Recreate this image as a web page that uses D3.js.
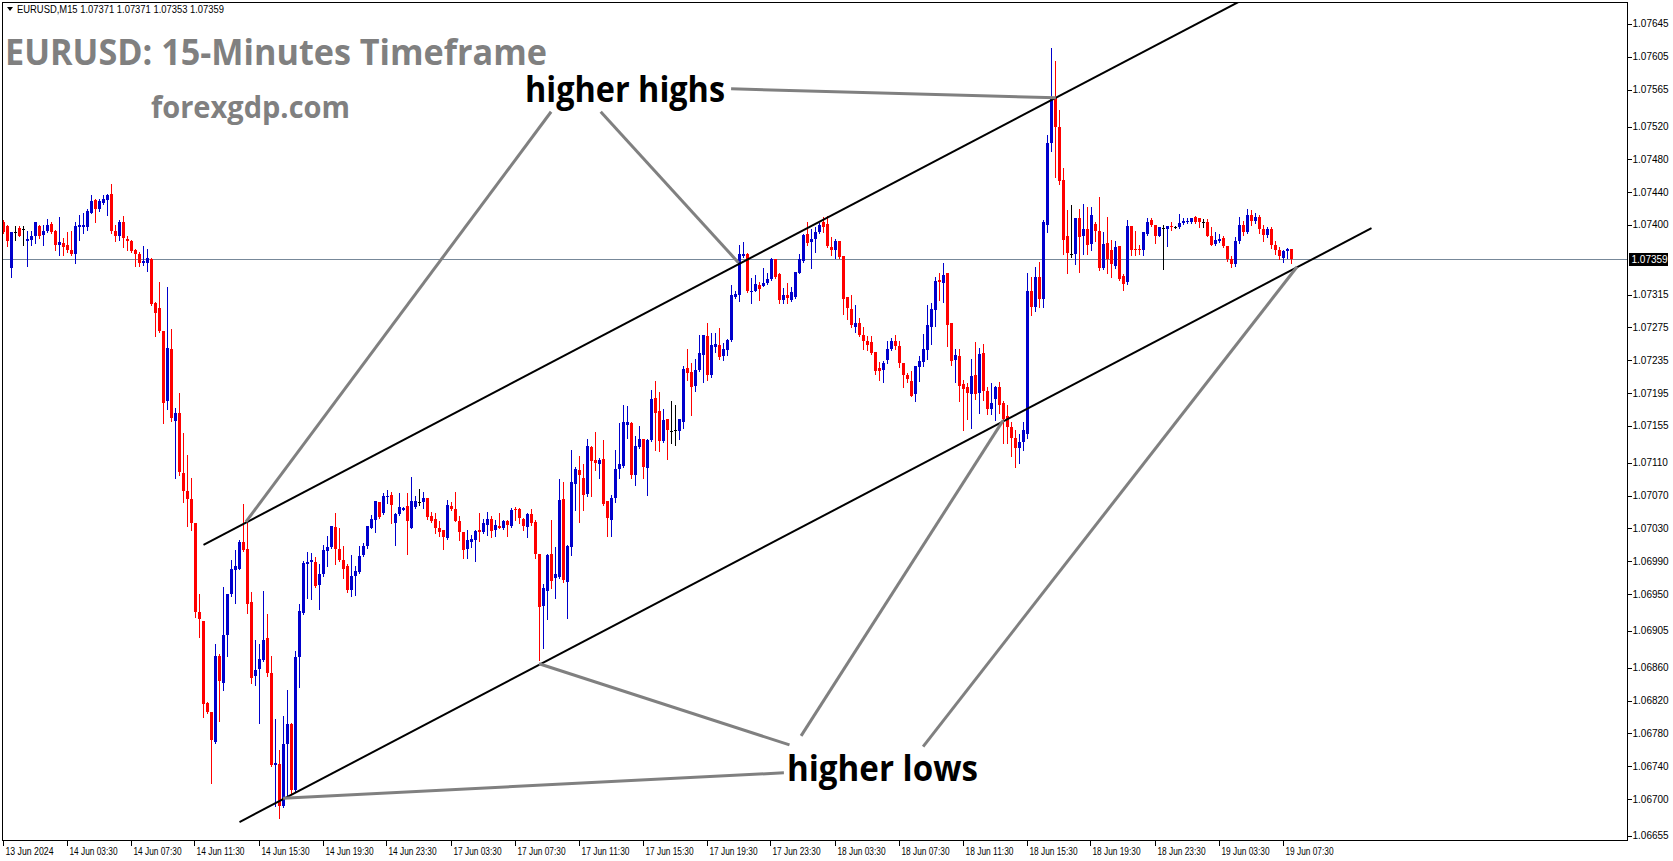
<!DOCTYPE html>
<html><head><meta charset="utf-8">
<script src="https://cdn.jsdelivr.net/npm/d3@7"></script>
<style>html,body{margin:0;padding:0;background:#fff;overflow:hidden}</style>
</head><body>
<svg id="chart" width="1673" height="861"></svg>
<script>
// [open, high, low, close] per 15-minute bar, starting 13 Jun 23:30
const bars = [
[1.07403,1.07406,1.07390,1.07392],[1.07399,1.07400,1.07374,1.07381],[1.07348,1.07392,1.07336,1.07391],[1.07391,1.07399,1.07382,1.07391],
[1.07396,1.07399,1.07386,1.07387],[1.07395,1.07399,1.07376,1.07395],[1.07381,1.07393,1.07350,1.07383],[1.07382,1.07393,1.07375,1.07387],
[1.07386,1.07404,1.07378,1.07403],[1.07399,1.07400,1.07384,1.07387],[1.07388,1.07400,1.07376,1.07393],[1.07393,1.07407,1.07392,1.07400],
[1.07401,1.07404,1.07390,1.07391],[1.07393,1.07394,1.07369,1.07376],[1.07375,1.07410,1.07363,1.07379],[1.07378,1.07384,1.07363,1.07373],
[1.07376,1.07392,1.07367,1.07369],[1.07369,1.07393,1.07363,1.07364],[1.07365,1.07404,1.07354,1.07399],[1.07398,1.07412,1.07382,1.07400],
[1.07398,1.07414,1.07390,1.07400],[1.07398,1.07419,1.07394,1.07417],[1.07415,1.07437,1.07414,1.07429],[1.07430,1.07432,1.07403,1.07419],
[1.07419,1.07432,1.07417,1.07429],[1.07427,1.07437,1.07426,1.07432],[1.07430,1.07438,1.07412,1.07436],[1.07438,1.07450,1.07390,1.07393],
[1.07393,1.07400,1.07381,1.07386],[1.07386,1.07406,1.07382,1.07404],[1.07404,1.07411,1.07373,1.07384],[1.07383,1.07386,1.07370,1.07381],
[1.07381,1.07382,1.07367,1.07368],[1.07369,1.07371,1.07350,1.07365],[1.07365,1.07367,1.07350,1.07354],[1.07354,1.07374,1.07351,1.07356],
[1.07354,1.07371,1.07344,1.07360],[1.07359,1.07360,1.07302,1.07304],[1.07305,1.07306,1.07265,1.07293],[1.07299,1.07330,1.07269,1.07271],
[1.07271,1.07271,1.07159,1.07183],[1.07185,1.07324,1.07176,1.07250],[1.07249,1.07273,1.07161,1.07165],[1.07161,1.07177,1.07092,1.07171],
[1.07171,1.07195,1.07095,1.07099],[1.07098,1.07146,1.07062,1.07076],[1.07076,1.07120,1.07033,1.07066],[1.07066,1.07091,1.07028,1.07036],
[1.07036,1.07036,1.06922,1.06928],[1.06928,1.06950,1.06898,1.06919],[1.06917,1.06917,1.06800,1.06816],[1.06817,1.06818,1.06805,1.06806],
[1.06806,1.06806,1.06720,1.06772],[1.06770,1.06889,1.06768,1.06875],[1.06874,1.06877,1.06795,1.06844],[1.06842,1.06959,1.06833,1.06900],
[1.06900,1.06950,1.06875,1.06950],[1.06950,1.06992,1.06947,1.06981],[1.06979,1.07004,1.06939,1.06984],[1.06981,1.07016,1.06980,1.07014],
[1.07013,1.07060,1.07003,1.07004],[1.07005,1.07041,1.06927,1.06938],[1.06940,1.06952,1.06841,1.06848],[1.06850,1.06894,1.06839,1.06857],
[1.06858,1.06889,1.06793,1.06871],[1.06870,1.06954,1.06868,1.06894],[1.06896,1.06926,1.06850,1.06854],[1.06854,1.06875,1.06740,1.06742],
[1.06741,1.06798,1.06691,1.06744],[1.06743,1.06760,1.06677,1.06691],[1.06691,1.06801,1.06690,1.06767],[1.06767,1.06833,1.06703,1.06791],
[1.06792,1.06793,1.06707,1.06711],[1.06711,1.06880,1.06709,1.06873],[1.06873,1.06938,1.06837,1.06929],[1.06927,1.06990,1.06926,1.06988],
[1.06987,1.07001,1.06945,1.06989],[1.06989,1.07000,1.06944,1.06991],[1.06989,1.06995,1.06959,1.06960],[1.06961,1.06986,1.06932,1.06974],
[1.06974,1.07010,1.06972,1.07004],[1.07002,1.07021,1.06984,1.07007],[1.07007,1.07033,1.07006,1.07033],[1.07032,1.07049,1.06986,1.07005],
[1.07005,1.07030,1.06990,1.06991],[1.06991,1.07008,1.06970,1.06981],[1.06984,1.06986,1.06953,1.06955],[1.06955,1.06997,1.06948,1.06972],
[1.06972,1.06984,1.06949,1.06978],[1.06977,1.07008,1.06976,1.06996],[1.06998,1.07012,1.06996,1.07008],[1.07008,1.07033,1.07006,1.07033],
[1.07031,1.07046,1.07030,1.07042],[1.07040,1.07063,1.07026,1.07063],[1.07062,1.07062,1.07043,1.07044],[1.07049,1.07073,1.07047,1.07070],
[1.07068,1.07077,1.07061,1.07070],[1.07071,1.07074,1.07037,1.07058],[1.07036,1.07049,1.07010,1.07048],[1.07047,1.07073,1.07046,1.07056],
[1.07053,1.07056,1.07052,1.07055],[1.07057,1.07073,1.06999,1.07039],[1.07031,1.07093,1.07030,1.07063],[1.07056,1.07069,1.07055,1.07063],
[1.07062,1.07078,1.07058,1.07062],[1.07062,1.07074,1.07055,1.07067],[1.07067,1.07067,1.07041,1.07044],[1.07045,1.07050,1.07038,1.07039],
[1.07041,1.07049,1.07024,1.07030],[1.07030,1.07039,1.07021,1.07026],[1.07028,1.07028,1.07005,1.07019],[1.07018,1.07065,1.07017,1.07058],
[1.07057,1.07062,1.07053,1.07054],[1.07054,1.07074,1.07039,1.07039],[1.07039,1.07045,1.07016,1.07026],[1.07026,1.07026,1.06994,1.07004],
[1.07005,1.07028,1.06994,1.07016],[1.07014,1.07022,1.07007,1.07017],[1.07016,1.07028,1.06990,1.07027],[1.07028,1.07049,1.07015,1.07026],
[1.07026,1.07042,1.07025,1.07037],[1.07034,1.07050,1.07022,1.07042],[1.07042,1.07045,1.07019,1.07027],[1.07028,1.07040,1.07021,1.07034],
[1.07033,1.07049,1.07030,1.07031],[1.07030,1.07040,1.07029,1.07039],[1.07039,1.07040,1.07021,1.07034],[1.07033,1.07055,1.07032,1.07053],
[1.07054,1.07056,1.07040,1.07052],[1.07054,1.07055,1.07036,1.07043],[1.07042,1.07043,1.07028,1.07033],[1.07032,1.07049,1.07020,1.07048],
[1.07047,1.07054,1.07034,1.07036],[1.07038,1.07040,1.06994,1.06999],[1.06999,1.06999,1.06870,1.06934],[1.06935,1.06962,1.06884,1.06957],
[1.06954,1.06999,1.06919,1.06998],[1.06999,1.07040,1.06957,1.06966],[1.06969,1.07007,1.06945,1.06975],[1.06971,1.07090,1.06969,1.07065],
[1.07066,1.07086,1.06965,1.06967],[1.06965,1.07010,1.06921,1.07009],[1.07007,1.07125,1.06997,1.07086],[1.07084,1.07105,1.07053,1.07103],
[1.07101,1.07118,1.07038,1.07095],[1.07092,1.07109,1.07053,1.07071],[1.07072,1.07139,1.07070,1.07131],[1.07129,1.07130,1.07070,1.07112],
[1.07114,1.07147,1.07101,1.07110],[1.07109,1.07116,1.07091,1.07114],[1.07115,1.07138,1.07059,1.07060],[1.07063,1.07064,1.07021,1.07043],
[1.07040,1.07071,1.07021,1.07067],[1.07067,1.07125,1.07062,1.07103],[1.07103,1.07158,1.07091,1.07109],[1.07106,1.07180,1.07105,1.07160],
[1.07156,1.07179,1.07140,1.07160],[1.07159,1.07160,1.07091,1.07095],[1.07095,1.07143,1.07083,1.07131],[1.07129,1.07155,1.07128,1.07139],
[1.07139,1.07139,1.07092,1.07105],[1.07104,1.07139,1.07071,1.07138],[1.07138,1.07199,1.07137,1.07188],[1.07189,1.07210,1.07126,1.07171],
[1.07173,1.07196,1.07124,1.07136],[1.07137,1.07175,1.07135,1.07162],[1.07164,1.07164,1.07115,1.07150],[1.07149,1.07185,1.07134,1.07149],
[1.07150,1.07181,1.07132,1.07150],[1.07149,1.07164,1.07139,1.07163],[1.07160,1.07228,1.07152,1.07224],[1.07225,1.07249,1.07211,1.07220],
[1.07221,1.07232,1.07168,1.07202],[1.07204,1.07236,1.07198,1.07223],[1.07223,1.07266,1.07222,1.07244],[1.07241,1.07266,1.07208,1.07266],
[1.07264,1.07280,1.07211,1.07217],[1.07217,1.07268,1.07215,1.07254],[1.07251,1.07268,1.07245,1.07255],[1.07254,1.07274,1.07237,1.07239],
[1.07240,1.07256,1.07235,1.07249],[1.07248,1.07261,1.07241,1.07260],[1.07260,1.07327,1.07259,1.07314],[1.07312,1.07320,1.07311,1.07316],
[1.07315,1.07375,1.07307,1.07364],[1.07362,1.07379,1.07361,1.07365],[1.07364,1.07366,1.07318,1.07319],[1.07318,1.07335,1.07305,1.07320],
[1.07320,1.07339,1.07319,1.07328],[1.07327,1.07330,1.07309,1.07322],[1.07326,1.07347,1.07325,1.07329],[1.07329,1.07341,1.07328,1.07334],
[1.07334,1.07360,1.07333,1.07358],[1.07359,1.07359,1.07335,1.07337],[1.07340,1.07341,1.07305,1.07308],[1.07308,1.07323,1.07305,1.07315],
[1.07315,1.07329,1.07305,1.07311],[1.07308,1.07324,1.07307,1.07318],[1.07312,1.07343,1.07311,1.07343],[1.07342,1.07364,1.07341,1.07358],
[1.07356,1.07389,1.07355,1.07388],[1.07389,1.07403,1.07376,1.07378],[1.07379,1.07395,1.07348,1.07383],[1.07383,1.07398,1.07367,1.07391],
[1.07391,1.07402,1.07390,1.07400],[1.07403,1.07410,1.07392,1.07398],[1.07401,1.07411,1.07373,1.07374],[1.07373,1.07385,1.07363,1.07369],
[1.07370,1.07383,1.07360,1.07381],[1.07380,1.07380,1.07360,1.07361],[1.07362,1.07362,1.07291,1.07310],[1.07312,1.07312,1.07285,1.07299],
[1.07298,1.07315,1.07276,1.07278],[1.07276,1.07303,1.07270,1.07281],[1.07280,1.07287,1.07264,1.07266],[1.07266,1.07276,1.07249,1.07259],
[1.07259,1.07264,1.07248,1.07254],[1.07257,1.07264,1.07243,1.07244],[1.07245,1.07245,1.07218,1.07222],[1.07225,1.07233,1.07211,1.07222],
[1.07223,1.07234,1.07209,1.07232],[1.07235,1.07258,1.07232,1.07249],[1.07249,1.07262,1.07248,1.07259],[1.07258,1.07266,1.07249,1.07253],
[1.07253,1.07258,1.07227,1.07232],[1.07232,1.07232,1.07203,1.07217],[1.07217,1.07220,1.07208,1.07212],[1.07210,1.07222,1.07191,1.07192],
[1.07194,1.07228,1.07185,1.07228],[1.07227,1.07240,1.07210,1.07234],[1.07233,1.07267,1.07228,1.07249],[1.07247,1.07303,1.07236,1.07278],
[1.07276,1.07305,1.07255,1.07298],[1.07296,1.07337,1.07277,1.07332],[1.07333,1.07342,1.07308,1.07330],[1.07329,1.07354,1.07306,1.07339],
[1.07341,1.07342,1.07252,1.07278],[1.07280,1.07280,1.07229,1.07234],[1.07235,1.07249,1.07208,1.07241],[1.07240,1.07249,1.07185,1.07204],
[1.07206,1.07211,1.07150,1.07200],[1.07202,1.07207,1.07163,1.07195],[1.07194,1.07236,1.07153,1.07216],[1.07217,1.07257,1.07188,1.07194],
[1.07195,1.07250,1.07171,1.07243],[1.07244,1.07255,1.07187,1.07198],[1.07197,1.07203,1.07169,1.07176],[1.07176,1.07207,1.07170,1.07183],
[1.07188,1.07204,1.07162,1.07202],[1.07203,1.07209,1.07171,1.07180],[1.07183,1.07185,1.07134,1.07163],[1.07167,1.07180,1.07134,1.07154],
[1.07154,1.07160,1.07118,1.07140],[1.07140,1.07150,1.07105,1.07128],[1.07128,1.07145,1.07110,1.07135],[1.07135,1.07160,1.07125,1.07150],
[1.07145,1.07342,1.07140,1.07320],[1.07320,1.07336,1.07290,1.07300],[1.07300,1.07349,1.07295,1.07336],[1.07336,1.07355,1.07300,1.07310],
[1.07310,1.07406,1.07300,1.07403],[1.07400,1.07510,1.07392,1.07500],[1.07500,1.07616,1.07490,1.07555],[1.07555,1.07600,1.07458,1.07520],
[1.07520,1.07540,1.07450,1.07453],[1.07455,1.07470,1.07365,1.07382],[1.07387,1.07418,1.07342,1.07366],[1.07365,1.07424,1.07361,1.07365],
[1.07365,1.07409,1.07352,1.07409],[1.07408,1.07420,1.07343,1.07385],[1.07387,1.07426,1.07365,1.07395],[1.07395,1.07422,1.07365,1.07376],
[1.07377,1.07422,1.07369,1.07412],[1.07401,1.07404,1.07380,1.07393],[1.07393,1.07434,1.07345,1.07347],[1.07348,1.07392,1.07346,1.07377],
[1.07378,1.07410,1.07341,1.07358],[1.07370,1.07382,1.07337,1.07352],[1.07350,1.07380,1.07347,1.07373],[1.07374,1.07374,1.07333,1.07334],
[1.07338,1.07340,1.07321,1.07328],[1.07330,1.07406,1.07328,1.07399],[1.07399,1.07399,1.07363,1.07370],[1.07371,1.07393,1.07363,1.07369],
[1.07371,1.07376,1.07365,1.07369],[1.07369,1.07392,1.07363,1.07392],[1.07389,1.07409,1.07388,1.07404],[1.07406,1.07408,1.07399,1.07400],
[1.07400,1.07400,1.07378,1.07387],[1.07387,1.07398,1.07386,1.07397],[1.07396,1.07400,1.07346,1.07396],[1.07395,1.07399,1.07374,1.07399],
[1.07399,1.07403,1.07394,1.07397],[1.07397,1.07399,1.07396,1.07397],[1.07397,1.07413,1.07396,1.07402],[1.07402,1.07409,1.07401,1.07405],
[1.07403,1.07408,1.07402,1.07405],[1.07403,1.07409,1.07402,1.07409],[1.07410,1.07411,1.07402,1.07403],[1.07408,1.07409,1.07397,1.07403],
[1.07404,1.07407,1.07397,1.07404],[1.07404,1.07407,1.07387,1.07387],[1.07387,1.07398,1.07375,1.07376],[1.07377,1.07391,1.07376,1.07382],
[1.07380,1.07389,1.07379,1.07383],[1.07384,1.07386,1.07373,1.07374],[1.07374,1.07374,1.07356,1.07358],[1.07358,1.07362,1.07349,1.07352],
[1.07352,1.07385,1.07350,1.07380],[1.07380,1.07410,1.07378,1.07400],[1.07400,1.07405,1.07388,1.07392],[1.07392,1.07420,1.07390,1.07412],
[1.07412,1.07418,1.07400,1.07405],[1.07405,1.07415,1.07402,1.07410],[1.07410,1.07412,1.07390,1.07395],[1.07395,1.07400,1.07380,1.07388],
[1.07388,1.07398,1.07385,1.07395],[1.07395,1.07397,1.07372,1.07375],[1.07375,1.07380,1.07365,1.07370],[1.07370,1.07373,1.07358,1.07362],
[1.07360,1.07370,1.07355,1.07368],[1.07368,1.07372,1.07360,1.07371],[1.07371,1.07371,1.07353,1.07359]
];
const timeLabels = ["13 Jun 2024","14 Jun 03:30","14 Jun 07:30","14 Jun 11:30","14 Jun 15:30","14 Jun 19:30","14 Jun 23:30",
  "17 Jun 03:30","17 Jun 07:30","17 Jun 11:30","17 Jun 15:30","17 Jun 19:30","17 Jun 23:30",
  "18 Jun 03:30","18 Jun 07:30","18 Jun 11:30","18 Jun 15:30","18 Jun 19:30","18 Jun 23:30","19 Jun 03:30","19 Jun 07:30"];
const timeLabelBars = [0,16,32,48,64,80,96,112,128,144,160,176,192,208,224,240,256,272,288,304,320];
const priceTicks = [1.07645,1.07605,1.07565,1.07520,1.07480,1.07440,1.07400,1.07315,1.07275,1.07235,1.07195,1.07155,
  1.07110,1.07070,1.07030,1.06990,1.06950,1.06905,1.06860,1.06820,1.06780,1.06740,1.06700,1.06655];
const lastPrice = 1.07359;
const headerText = "EURUSD,M15  1.07371 1.07371 1.07353 1.07359";
const channelUpper = [[50,1.07010],[310,1.07675]];
const channelLower = [[59,1.06672],[342,1.07396]];
const highPointers = [[[60.6,1.07038],[136.9,1.07538]],[[149.3,1.07538],[183.75,1.07354]],[[181.9,1.07566],[263.1,1.07555]]];
const lowPointers = [[[196.5,1.06766],[133.9,1.06865]],[[195.1,1.06732],[69.9,1.06701]],[[199.4,1.06777],[249.95,1.07162]],[[229.9,1.06764],[323.4,1.07349]]];

const svg = d3.select("#chart");
const L = 2.5, T = 2.5, R = 1627.5, B = 840.5;
const x = d3.scaleLinear().domain([0, 406]).range([3.5, 3.5 + 4 * 406]);
const y = d3.scaleLinear().domain([1.066501, 1.076706]).range([840, 3]);

svg.append("rect").attr("width",1673).attr("height",861).attr("fill","#fff");
svg.append("defs").append("clipPath").attr("id","plot").append("rect")
  .attr("x",L).attr("y",T).attr("width",R-L).attr("height",B-T);
const plot = svg.append("g").attr("clip-path","url(#plot)");

// current price line
plot.append("line").attr("x1",L).attr("x2",R).attr("y1",Math.round(y(lastPrice))+0.5).attr("y2",Math.round(y(lastPrice))+0.5)
  .attr("stroke","#778899").attr("stroke-width",1);

// candles
const col = d => d[3] > d[0] ? "#0000cc" : (d[3] < d[0] ? "#ff0000" : "#000000");
const cg = plot.append("g").attr("shape-rendering","crispEdges");
cg.selectAll("line.w").data(bars).join("line").attr("class","w")
  .attr("x1",(d,i)=>x(i)).attr("x2",(d,i)=>x(i))
  .attr("y1",d=>Math.round(y(d[1]))).attr("y2",d=>Math.round(y(d[2]))+1)
  .attr("stroke",col).attr("stroke-width",1);
cg.selectAll("rect.b").data(bars).join("rect").attr("class","b")
  .attr("x",(d,i)=>x(i)-1.5).attr("width",3)
  .attr("y",d=>Math.round(y(Math.max(d[0],d[3]))))
  .attr("height",d=>Math.max(1,Math.round(y(Math.min(d[0],d[3])))-Math.round(y(Math.max(d[0],d[3])))))
  .attr("fill",col);

// channel lines
const ln = d3.line().x(p=>x(p[0])).y(p=>y(p[1]));
[channelUpper, channelLower].forEach(c => plot.append("path").attr("d",ln(c)).attr("fill","none")
  .attr("stroke","#000").attr("stroke-width",2));
// pointer lines
highPointers.concat(lowPointers).forEach(c => plot.append("path").attr("d",ln(c)).attr("fill","none")
  .attr("stroke","#808080").attr("stroke-width",3));

// frame
svg.append("rect").attr("x",L).attr("y",T).attr("width",R-L).attr("height",B-T)
  .attr("fill","none").attr("stroke","#000").attr("stroke-width",1).attr("shape-rendering","crispEdges");

// price axis
const pa = svg.append("g");
priceTicks.forEach(p => {
  const yy = y(p);
  pa.append("line").attr("x1",R).attr("x2",R+4).attr("y1",Math.round(yy)+0.5).attr("y2",Math.round(yy)+0.5)
    .attr("stroke","#000").attr("shape-rendering","crispEdges");
  pa.append("text").attr("x",R+5).attr("y",yy+3.5).text(p.toFixed(5))
    .attr("font-family","Liberation Sans, Arial, sans-serif").attr("font-size",10).attr("fill","#000");
});
const ly = y(lastPrice);
pa.append("rect").attr("x",R+1.5).attr("y",Math.round(ly)-6).attr("width",39).attr("height",13).attr("fill","#000");
pa.append("text").attr("x",R+4).attr("y",ly+4).text(lastPrice.toFixed(5))
  .attr("font-family","Liberation Sans, Arial, sans-serif").attr("font-size",10).attr("fill","#fff");

// time axis
const ta = svg.append("g");
timeLabelBars.forEach((b,k) => {
  const xx = Math.round(x(b)) - 0.5;
  ta.append("line").attr("x1",xx).attr("x2",xx).attr("y1",B).attr("y2",B+5)
    .attr("stroke","#000").attr("shape-rendering","crispEdges");
  ta.append("text").attr("x",xx+2).attr("y",854.5).text(timeLabels[k])
    .attr("font-family","Liberation Sans, Arial, sans-serif").attr("font-size",10).attr("fill","#000")
    .attr("textLength",48).attr("lengthAdjust","spacingAndGlyphs");
});

// header
svg.append("path").attr("d","M7,7 L13,7 L10,11 Z").attr("fill","#000");
svg.append("text").attr("x",17).attr("y",13).text(headerText)
  .attr("font-family","Liberation Sans, Arial, sans-serif").attr("font-size",10).attr("fill","#000")
  .attr("textLength",207).attr("lengthAdjust","spacingAndGlyphs");

// titles
svg.append("text").attr("x",5).attr("y",65).text("EURUSD: 15-Minutes Timeframe")
  .attr("font-family","Open Sans, sans-serif").attr("font-weight",700).attr("font-size",35).attr("fill","#808080")
  .attr("textLength",542).attr("lengthAdjust","spacingAndGlyphs");
svg.append("text").attr("x",151).attr("y",118).text("forexgdp.com")
  .attr("font-family","Open Sans, sans-serif").attr("font-weight",700).attr("font-size",30).attr("fill","#808080")
  .attr("textLength",199).attr("lengthAdjust","spacingAndGlyphs");
svg.append("text").attr("x",525).attr("y",102).text("higher highs")
  .attr("font-family","Open Sans, sans-serif").attr("font-weight",700).attr("font-size",35).attr("fill","#000")
  .attr("textLength",200).attr("lengthAdjust","spacingAndGlyphs");
svg.append("text").attr("x",787).attr("y",781).text("higher lows")
  .attr("font-family","Open Sans, sans-serif").attr("font-weight",700).attr("font-size",35).attr("fill","#000")
  .attr("textLength",191).attr("lengthAdjust","spacingAndGlyphs");
</script>
</body></html>
